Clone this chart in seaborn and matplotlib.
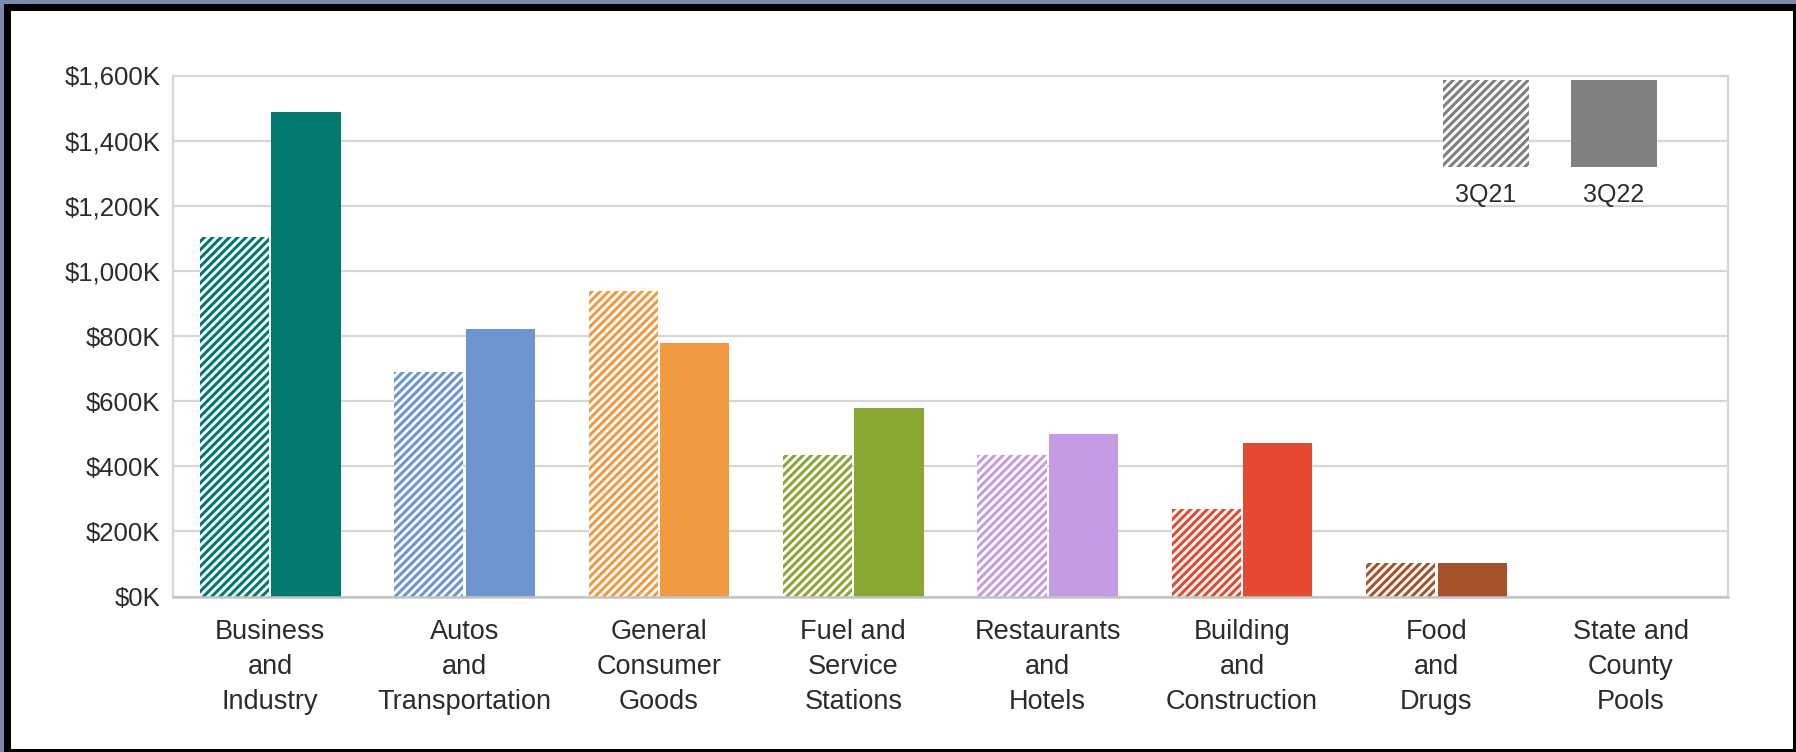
import matplotlib
matplotlib.use("Agg")
import matplotlib.pyplot as plt
from matplotlib.patches import Rectangle
from matplotlib.ticker import FuncFormatter
import seaborn as sns
import pandas as pd

# Revenue by industry group, in thousands of dollars
categories = [
    "Business\nand\nIndustry",
    "Autos\nand\nTransportation",
    "General\nConsumer\nGoods",
    "Fuel and\nService\nStations",
    "Restaurants\nand\nHotels",
    "Building\nand\nConstruction",
    "Food\nand\nDrugs",
    "State and\nCounty\nPools",
]
values_3q21 = [1105, 690, 938, 435, 435, 270, 103, 0]
values_3q22 = [1487, 822, 777, 578, 500, 471, 103, 0]
periods = ["3Q21", "3Q22"]
y_ticks = [0, 200, 400, 600, 800, 1000, 1200, 1400, 1600]

colors = ["#00796F", "#6C95D2", "#F29A42", "#89A833", "#C59BE3",
          "#E6492F", "#A5522A", "#808080"]
legend_gray = "#808080"

df = pd.DataFrame({
    "category": categories * 2,
    "value": values_3q21 + values_3q22,
    "period": [periods[0]] * len(categories) + [periods[1]] * len(categories),
})

sns.set_theme(style="white")
plt.rcParams["font.family"] = ["Liberation Sans", "DejaVu Sans"]
plt.rcParams["hatch.linewidth"] = 2.2

fig = plt.figure(figsize=(17.96, 7.52), dpi=100)
fig.patch.set_facecolor("#7E8AAB")
# dark frame and white panel behind the chart
fig.add_artist(Rectangle((4 / 1796, 0), 1792 / 1796, 748 / 752,
                         transform=fig.transFigure, facecolor="black",
                         edgecolor="none", zorder=-3))
fig.add_artist(Rectangle((11 / 1796, 3 / 752), 1782 / 1796, 738 / 752,
                         transform=fig.transFigure, facecolor="white",
                         edgecolor="none", zorder=-2))

ax = fig.add_axes([173 / 1796, 1 - 596.5 / 752, 1555 / 1796, 521 / 752])
ax.set_facecolor("white")

sns.barplot(data=df, x="category", y="value", hue="period",
            hue_order=periods, order=categories, width=0.735, gap=0.03,
            ax=ax, legend=False, errorbar=None, saturation=1)

# 3Q21 bars: hatched in the category colour; 3Q22 bars: solid fill
for bar, c in zip(ax.containers[0], colors):
    bar.set_facecolor("white")
    bar.set_edgecolor(c)
    bar.set_hatch("////")
    bar.set_linewidth(0)
for bar, c in zip(ax.containers[1], colors):
    bar.set_facecolor(c)
    bar.set_edgecolor(c)
    bar.set_linewidth(0)

ax.set_ylim(0, 1600)
ax.set_yticks(y_ticks)
ax.yaxis.set_major_formatter(FuncFormatter(lambda v, _: f"${v:,.0f}K"))
ax.set_xlim(-0.5, len(categories) - 0.5)
ax.set_xlabel("")
ax.set_ylabel("")

ax.grid(axis="y", color="#D6D6D6", linewidth=1.6)
ax.set_axisbelow(True)
for side in ["left", "right", "top"]:
    ax.spines[side].set_visible(True)
    ax.spines[side].set_color("#D6D6D6")
    ax.spines[side].set_linewidth(1.6)
ax.spines["bottom"].set_color("#C4C4C4")
ax.spines["bottom"].set_linewidth(1.8)

ax.tick_params(axis="y", length=0, pad=9, labelsize=18.5, labelcolor="#2B2B2B")
ax.tick_params(axis="x", length=0, pad=16, labelsize=19.5, labelcolor="#2B2B2B")
for lbl in ax.get_xticklabels():
    lbl.set_linespacing(1.45)
    lbl.set_horizontalalignment("center")

# legend: swatches with labels underneath
swatch_w, swatch_h = 0.0555, 0.167
for x0, label, hatched in [(0.8165, periods[0], True), (0.8990, periods[1], False)]:
    if hatched:
        ax.add_patch(Rectangle((x0, 0.8245), swatch_w, swatch_h,
                               transform=ax.transAxes, facecolor="white",
                               edgecolor=legend_gray, hatch="////", linewidth=0,
                               zorder=5, clip_on=False))
    else:
        ax.add_patch(Rectangle((x0, 0.8245), swatch_w, swatch_h,
                               transform=ax.transAxes, facecolor=legend_gray,
                               edgecolor=legend_gray, linewidth=0, zorder=5,
                               clip_on=False))
    ax.text(x0 + swatch_w / 2, 0.771, label, transform=ax.transAxes,
            ha="center", va="center", fontsize=18, color="#2B2B2B", zorder=5)

fig.savefig("out.png", dpi=100, facecolor=fig.get_facecolor())
